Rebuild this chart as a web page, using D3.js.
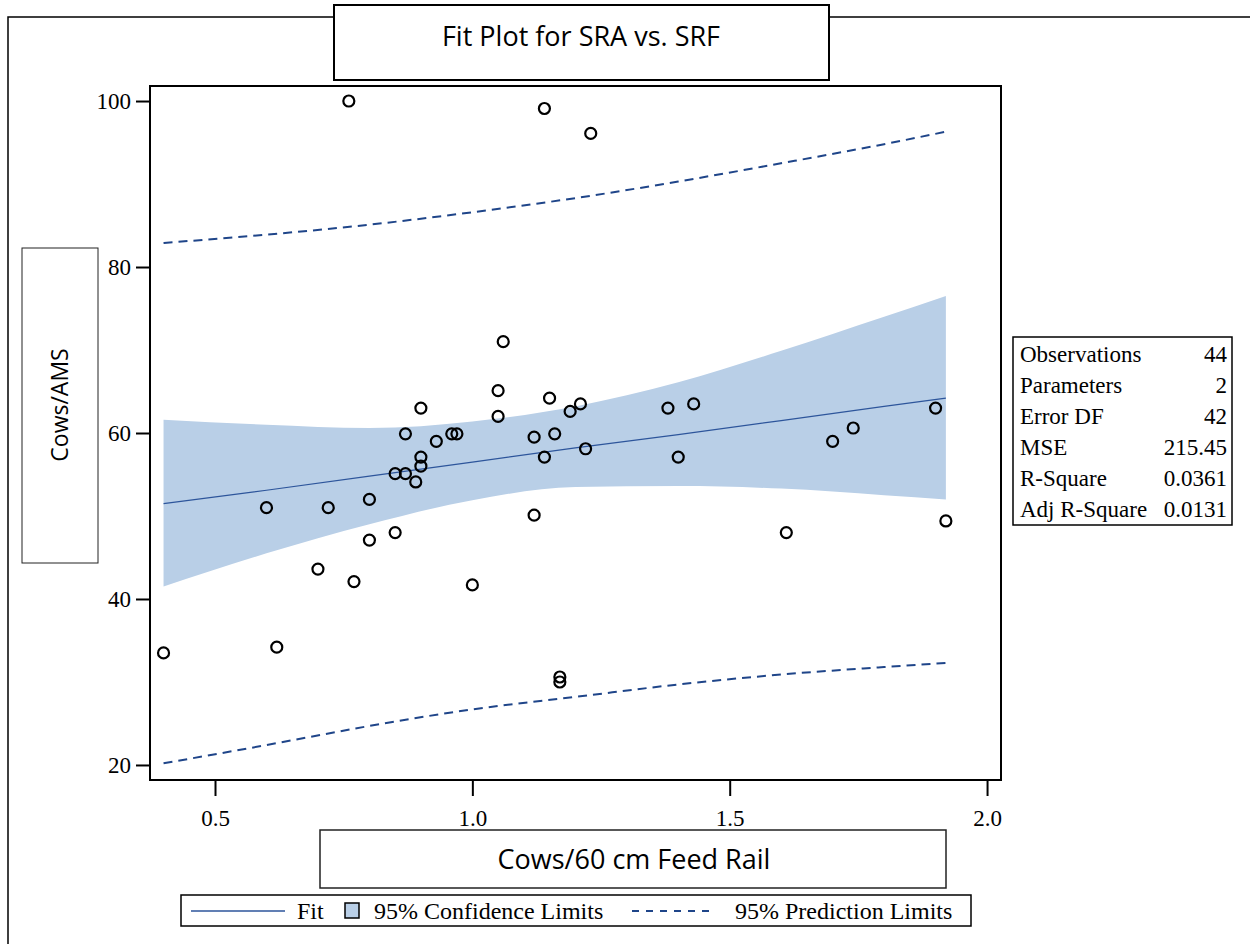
<!DOCTYPE html>
<html>
<head>
<meta charset="utf-8">
<script src="https://cdn.jsdelivr.net/npm/d3@7"></script>
<style>
  body { margin: 0; background: #fff; }
  .serif { font-family: "Liberation Serif", "Times New Roman", serif; }
  .sans { font-family: "Open Sans", "Noto Sans", sans-serif; }
</style>
</head>
<body>
<div id="chart"></div>
<script>
// observed points (Cows/60 cm feed rail, Cows/AMS)
const obsX = [0.40,0.60,0.62,0.70,0.72,0.76,0.77,0.80,0.80,0.85,0.85,0.87,0.87,0.89,0.90,0.90,0.90,0.93,0.96,0.97,1.00,1.05,1.05,1.06,1.12,1.12,1.14,1.14,1.15,1.16,1.17,1.17,1.19,1.21,1.22,1.23,1.38,1.40,1.43,1.61,1.70,1.74,1.90,1.92]
const obsY = [33.5,51.0,34.2,43.6,51.0,100.0,42.1,52.0,47.1,48.0,55.1,55.1,59.9,54.1,57.1,56.0,63.0,59.0,59.9,59.9,41.7,65.1,62.0,71.0,50.1,59.5,99.1,57.1,64.2,59.9,30.6,30.0,62.6,63.5,58.1,96.1,63.0,57.1,63.5,48.0,59.0,60.6,63.0,49.4]

const bandX   = [0.40,0.60,0.80,1.00,1.20,1.40,1.60,1.80,1.92]
const fitY    = [51.5,53.1,54.8,56.5,58.2,59.8,61.5,63.2,64.2]
const clUpper = [61.6,61.0,60.6,61.4,63.2,66.1,69.9,74.0,76.5]
const clLower = [41.5,45.5,49.0,51.9,53.5,53.6,53.3,52.5,52.0]
const plUpper = [82.9,83.9,85.1,86.6,88.3,90.3,92.5,94.8,96.3]
const plLower = [20.2,22.4,24.7,26.7,28.2,29.7,30.9,31.8,32.3]

const xTicks = [0.5, 1.0, 1.5, 2.0]
const yTicks = [20, 40, 60, 80, 100]

const statLabels = ["Observations","Parameters","Error DF","MSE","R-Square","Adj R-Square"]
const statValues = ["44","2","42","215.45","0.0361","0.0131"]

const W = 1250, H = 944
const plot = {left: 150, right: 1001, top: 86, bottom: 780}
const blue = "#1f4589", fitBlue = "#2d559b", bandFill = "#b9cfe7"

let svg = d3.select("#chart").append("svg")
    .attr("width", W)
    .attr("height", H)

let x = d3.scaleLinear().domain([0.3737, 2.0271]).range([plot.left, plot.right])
let y = d3.scaleLinear().domain([18.19, 101.81]).range([plot.bottom, plot.top])

// outer frame (broken by the title box)
svg.append("path")
    .attr("d", "M8,944 L8,17 L334,17 M829,17 L1250,17")
    .style("fill", "none").style("stroke", "#000").style("stroke-width", 1.5)

// title box
svg.append("rect").attr("x", 334).attr("y", 5).attr("width", 495).attr("height", 75)
    .style("fill", "#fff").style("stroke", "#000").style("stroke-width", 2)
svg.append("text").attr("class", "sans")
    .attr("x", 581).attr("y", 46)
    .attr("text-anchor", "middle").style("font-size", "27px")
    .text("Fit Plot for SRA vs. SRF")

let bandData = bandX.map((v, i) => ({x: v, fit: fitY[i], cu: clUpper[i], cl: clLower[i], pu: plUpper[i], pl: plLower[i]}))

// confidence band
svg.append("path")
    .datum(bandData)
    .attr("d", d3.area().x(d => x(d.x)).y0(d => y(d.cl)).y1(d => y(d.cu)).curve(d3.curveMonotoneX))
    .style("fill", bandFill)

// fit line
svg.append("path")
    .datum(bandData)
    .attr("d", d3.line().x(d => x(d.x)).y(d => y(d.fit)))
    .style("fill", "none").style("stroke", fitBlue).style("stroke-width", 1.2)

// prediction limits
for (let key of ["pu", "pl"]) {
    svg.append("path")
        .datum(bandData)
        .attr("d", d3.line().x(d => x(d.x)).y(d => y(d[key])).curve(d3.curveMonotoneX))
        .style("fill", "none").style("stroke", blue).style("stroke-width", 2)
        .style("stroke-dasharray", "9,6")
}

// observations
svg.append("g").selectAll("circle")
    .data(obsX.map((v, i) => [v, obsY[i]]))
    .enter().append("circle")
    .attr("cx", d => x(d[0]))
    .attr("cy", d => y(d[1]))
    .attr("r", 5.5)
    .style("fill", "none").style("stroke", "#000").style("stroke-width", 2.2)

// plot frame
svg.append("rect")
    .attr("x", plot.left).attr("y", plot.top)
    .attr("width", plot.right - plot.left).attr("height", plot.bottom - plot.top)
    .style("fill", "none").style("stroke", "#000").style("stroke-width", 2)

// axes
let yAxis = svg.append("g").attr("class", "serif")
    .attr("transform", "translate(" + (plot.left - 1) + ",0)")
    .call(d3.axisLeft(y).tickValues(yTicks).tickSize(13).tickSizeOuter(0).tickPadding(5))
yAxis.select(".domain").remove()
yAxis.selectAll("line").style("stroke", "#000").style("stroke-width", 2)
yAxis.selectAll("text").style("font-size", "23px").style("fill", "#000").attr("dy", "0.34em")

let xAxis = svg.append("g").attr("class", "serif")
    .attr("transform", "translate(0," + (plot.bottom + 1) + ")")
    .call(d3.axisBottom(x).tickValues(xTicks).tickFormat(d3.format(".1f")).tickSize(15).tickSizeOuter(0).tickPadding(14))
xAxis.select(".domain").remove()
xAxis.selectAll("line").style("stroke", "#000").style("stroke-width", 2)
xAxis.selectAll("text").style("font-size", "23px").style("fill", "#000")

// axis label boxes
svg.append("rect").attr("x", 22).attr("y", 248).attr("width", 76).attr("height", 315)
    .style("fill", "none").style("stroke", "#222").style("stroke-width", 1)
svg.append("text").attr("class", "sans")
    .attr("transform", "translate(68,405) rotate(-90)")
    .attr("text-anchor", "middle").style("font-size", "23px")
    .text("Cows/AMS")

svg.append("rect").attr("x", 320).attr("y", 830).attr("width", 626).attr("height", 58)
    .style("fill", "none").style("stroke", "#222").style("stroke-width", 1.5)
svg.append("text").attr("class", "sans")
    .attr("x", 634).attr("y", 869)
    .attr("text-anchor", "middle").style("font-size", "27px")
    .text("Cows/60 cm Feed Rail")

// stats box
let stats = svg.append("g").attr("class", "serif")
stats.append("rect").attr("x", 1013).attr("y", 337).attr("width", 219).attr("height", 188)
    .style("fill", "#fff").style("stroke", "#000").style("stroke-width", 1.5)
statLabels.forEach((s, i) => {
    stats.append("text").attr("x", 1020).attr("y", 362 + i * 31)
        .style("font-size", "23px").text(s)
    stats.append("text").attr("x", 1227).attr("y", 362 + i * 31)
        .attr("text-anchor", "end").style("font-size", "23px").text(statValues[i])
})

// legend
let leg = svg.append("g").attr("class", "serif")
leg.append("rect").attr("x", 181).attr("y", 895).attr("width", 790).attr("height", 31)
    .style("fill", "#fff").style("stroke", "#000").style("stroke-width", 1.5)
leg.append("line").attr("x1", 191).attr("x2", 285).attr("y1", 911).attr("y2", 911)
    .style("stroke", fitBlue).style("stroke-width", 1.5)
leg.append("text").attr("x", 297).attr("y", 919).style("font-size", "24px").text("Fit")
leg.append("rect").attr("x", 345).attr("y", 903).attr("width", 14).attr("height", 15)
    .style("fill", bandFill).style("stroke", "#000").style("stroke-width", 1.5)
leg.append("text").attr("x", 374).attr("y", 919).style("font-size", "24px").text("95% Confidence Limits")
leg.append("line").attr("x1", 632).attr("x2", 716).attr("y1", 911).attr("y2", 911)
    .style("stroke", blue).style("stroke-width", 2).style("stroke-dasharray", "7,7")
leg.append("text").attr("x", 735).attr("y", 919).style("font-size", "24px").text("95% Prediction Limits")
</script>
</body>
</html>
